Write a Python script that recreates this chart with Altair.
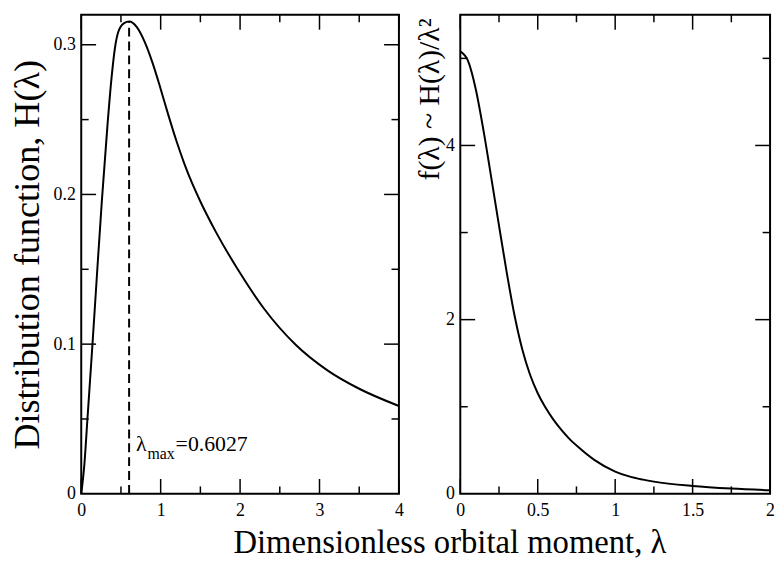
import altair as alt
import pandas as pd

# ---- data ----
# Left panel: distribution function H(lambda)
lam_H = [0, 0.04, 0.078, 0.144, 0.2, 0.26, 0.33, 0.38, 0.425, 0.466, 0.54, 0.6027,
         0.7, 0.8, 0.9, 1.0, 1.1, 1.2, 1.3, 1.4, 1.5, 1.7, 2.0, 2.3, 2.7, 3.1, 3.5, 4.0]
H_vals = [0, 0.02, 0.05, 0.102, 0.148, 0.196, 0.246, 0.277, 0.298, 0.3085, 0.3145, 0.3155,
          0.3118, 0.3018, 0.2876, 0.2705, 0.2525, 0.2355, 0.2203, 0.207, 0.1953, 0.1745,
          0.1475, 0.1238, 0.0996, 0.0825, 0.0702, 0.0587]

# Right panel: f(lambda) ~ H(lambda)/lambda^2
lam_f = [0, 0.05, 0.1, 0.15, 0.2, 0.25, 0.3, 0.35, 0.4, 0.45, 0.5, 0.55, 0.6, 0.65,
         0.7, 0.76, 0.865, 1.0, 1.09, 1.18, 1.25, 1.5, 1.75, 2.0]
f_vals = [5.08, 4.97, 4.645, 4.17, 3.63, 3.08, 2.54, 2.05, 1.66, 1.37, 1.155, 0.99, 0.855, 0.74,
          0.64, 0.54, 0.39, 0.256, 0.2, 0.163, 0.14, 0.09, 0.06, 0.04]

lam_max = 0.6027
H_max = 0.3155
label_H = 0.0287

left_x_major = [0, 1, 2, 3, 4]
left_x_minor = [0.5, 1.5, 2.5, 3.5]
left_y_labels = [0, 0.1, 0.2, 0.3]
left_y_major = [0.1, 0.2, 0.3]
left_y_minor = [0.05, 0.15, 0.25]

right_x_major = [0, 0.5, 1, 1.5, 2]
right_x_minor = [0.25, 0.75, 1.25, 1.75]
right_y_labels = [0, 2, 4]
right_y_major = [2, 4]
right_y_minor = [1, 3, 5]

# ---- layout ----
WL, WR, HH = 321, 313, 484
FONT = "Liberation Serif"
MAJ, MIN = 15, 7.5

XL_DOM, YL_DOM = [0, 4], [0, 0.32]
XR_DOM, YR_DOM = [0, 2], [0, 5.5]
xL = alt.Scale(domain=XL_DOM, nice=False, zero=False)
yL = alt.Scale(domain=YL_DOM, nice=False, zero=False)
xR = alt.Scale(domain=XR_DOM, nice=False, zero=False)
yR = alt.Scale(domain=YR_DOM, nice=False, zero=False)


def panel_table(cx, cy, xdom, ydom, W, H, xmaj, xmin, ymaj, ymin):
    """Curve rows plus short inward tick segments (one path per segment)."""
    rows = [{"x": a, "y": b, "seg": "curve", "w": 2.0} for a, b in zip(cx, cy)]
    for vals, L in ((xmaj, MAJ), (xmin, MIN)):
        d = L / H * (ydom[1] - ydom[0])
        for v in vals:
            rows += [{"x": v, "y": ydom[0], "seg": f"xb{v}", "w": 1.5},
                     {"x": v, "y": ydom[0] + d, "seg": f"xb{v}", "w": 1.5},
                     {"x": v, "y": ydom[1], "seg": f"xt{v}", "w": 1.5},
                     {"x": v, "y": ydom[1] - d, "seg": f"xt{v}", "w": 1.5}]
    for vals, L in ((ymaj, MAJ), (ymin, MIN)):
        d = L / W * (xdom[1] - xdom[0])
        for v in vals:
            rows += [{"x": xdom[0], "y": v, "seg": f"yl{v}", "w": 1.5},
                     {"x": xdom[0] + d, "y": v, "seg": f"yl{v}", "w": 1.5},
                     {"x": xdom[1] - d, "y": v, "seg": f"yr{v}", "w": 1.5},
                     {"x": xdom[1], "y": v, "seg": f"yr{v}", "w": 1.5}]
    return pd.DataFrame(rows)


def lab_axis(values, **kw):
    return alt.Axis(values=values, ticks=False, tickSize=0, domain=False, grid=False,
                    labelFlush=False, format="~g", **kw)


# Left panel
dfL = panel_table(lam_H, H_vals, XL_DOM, YL_DOM, WL, HH,
                  left_x_major, left_x_minor, left_y_major, left_y_minor)
left_line = alt.Chart(dfL).mark_line(color="black", interpolate="monotone").encode(
    x=alt.X("x:Q", scale=xL, axis=lab_axis(
        left_x_major, orient="bottom", labelPadding=8, title="Dimensionless orbital moment, λ",
        titleX=372, titleY=59, titleAlign="center", titleBaseline="alphabetic",
        titleFontSize=33)),
    y=alt.Y("y:Q", scale=yL, axis=lab_axis(
        left_y_labels, orient="left", labelPadding=6, title="Distribution function, H(λ)",
        titleX=-43, titleY=HH / 2, titleAngle=270, titleAlign="center",
        titleBaseline="alphabetic", titleFontSize=36.5)),
    detail="seg:N",
    strokeWidth=alt.StrokeWidth("w:Q", scale=None, legend=None),
)

dfmax = pd.DataFrame({"lam": [lam_max], "y0": [0.0], "ytop": [H_max], "ylab": [label_H]})
dash = alt.Chart(dfmax).mark_rule(color="black", strokeWidth=2, strokeDash=[9, 5]).encode(
    x=alt.X("lam:Q", scale=xL, axis=None),
    y=alt.Y("y0:Q", scale=yL, axis=None),
    y2="ytop:Q",
)
txt_base = alt.Chart(dfmax).encode(
    x=alt.X("lam:Q", scale=xL, axis=None),
    y=alt.Y("ylab:Q", scale=yL, axis=None),
)
t1 = txt_base.mark_text(text="λ", align="left", baseline="alphabetic", dx=7,
                        font=FONT, fontSize=22, color="black")
t2 = txt_base.mark_text(text="max", align="left", baseline="alphabetic", dx=18.5, dy=8,
                        font=FONT, fontSize=16, color="black")
t3 = txt_base.mark_text(text=f"={lam_max}", align="left", baseline="alphabetic", dx=47,
                        font=FONT, fontSize=22, color="black")

left = alt.layer(left_line, dash, t1, t2, t3).resolve_axis(
    x="independent", y="independent").properties(width=WL, height=HH)

# Right panel
dfR = panel_table(lam_f, f_vals, XR_DOM, YR_DOM, WR, HH,
                  right_x_major, right_x_minor, right_y_major, right_y_minor)
right = alt.Chart(dfR).mark_line(color="black", interpolate="monotone").encode(
    x=alt.X("x:Q", scale=xR, axis=lab_axis(right_x_major, orient="bottom", labelPadding=8,
                                           title=None)),
    y=alt.Y("y:Q", scale=yR, axis=lab_axis(
        right_y_labels, orient="left", labelPadding=6, title="f(λ) ~ H(λ)/λ²",
        titleX=-22, titleY=85, titleAngle=270, titleAlign="center",
        titleBaseline="alphabetic", titleFontSize=30)),
    detail="seg:N",
    strokeWidth=alt.StrokeWidth("w:Q", scale=None, legend=None),
).properties(width=WR, height=HH)

chart = alt.hconcat(left, right, spacing=62, bounds="flush").properties(
    padding={"left": 0, "top": 0, "right": 0, "bottom": 0}
).configure_axis(
    labelFont=FONT, labelFontSize=18, labelColor="black",
    titleFont=FONT, titleColor="black", titleFontWeight="normal",
).configure_view(stroke="black", strokeWidth=2)

chart.save("out.html", embed_options={"renderer": "svg", "actions": False})
